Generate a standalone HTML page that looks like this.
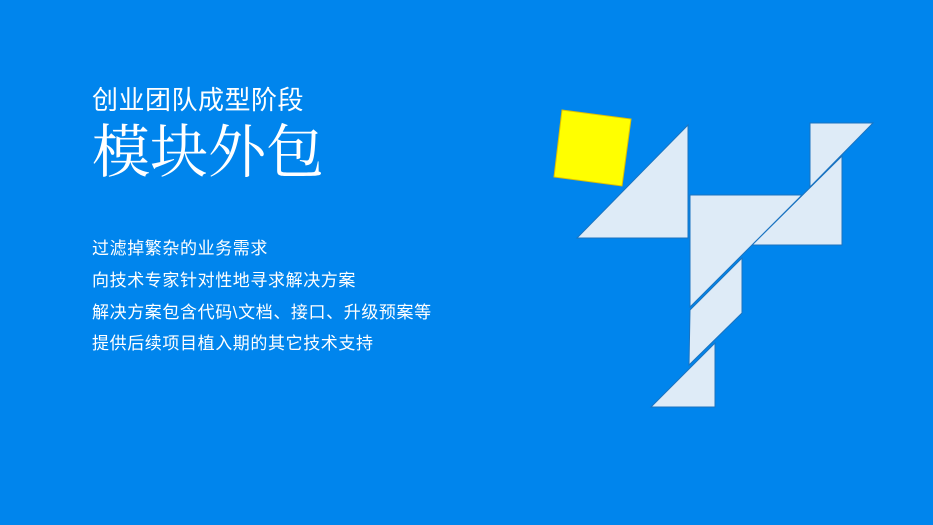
<!DOCTYPE html>
<html><head><meta charset="utf-8"><style>
body{margin:0;width:933px;height:525px;background:#0085ed;overflow:hidden;position:relative;font-family:"Liberation Sans","Noto Sans CJK SC",sans-serif;color:#fff}
.t{position:absolute;left:92px;white-space:nowrap}
.b{font-size:17px;letter-spacing:0.6px}
</style></head><body>
<div class="t" style="top:80px;font-size:26px;letter-spacing:0.5px">创业团队成型阶段</div>
<div class="t" style="top:112px;font-size:58px;font-family:'Noto Serif CJK SC',serif;line-height:70px">模块外包</div>
<div class="t b" style="top:234px">过滤掉繁杂的业务需求</div>
<div class="t b" style="top:266px">向技术专家针对性地寻求解决方案</div>
<div class="t b" style="top:298px">解决方案包含代码\文档、接口、升级预案等</div>
<div class="t b" style="top:329px">提供后续项目植入期的其它技术支持</div>
<svg width="933" height="525" style="position:absolute;left:0;top:0">
<g fill="#deebf7" stroke="#1a73c0" stroke-width="1">
<polygon fill="#ffff00" stroke="#e0c000" points="562,110 631,119 622,186 554,177"/>
<polygon points="688,125 688,238 577,238"/>
<polygon points="810,123 873,123 810,187"/>
<polygon points="842,156 842,245 752,245"/>
<polygon points="690,195 802,195 690,307"/>
<polygon points="690,310 742,258 742,313 689,365"/>
<polygon points="715,343 715,407 651,407"/>
</g></svg>
</body></html>
